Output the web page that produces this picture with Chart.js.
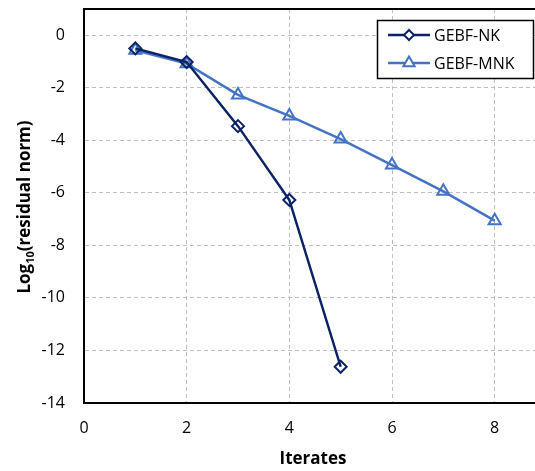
<!DOCTYPE html>
<html>
<head>
<meta charset="utf-8">
<script src="https://cdn.jsdelivr.net/npm/chart.js@4/dist/chart.umd.min.js"></script>
<style>
html,body{margin:0;padding:0;background:#fff;overflow:hidden;width:535px;height:471px;}
canvas{display:block;}
</style>
</head>
<body>
<canvas id="c" width="555" height="471"></canvas>
<script>
const nkX = [1, 2, 3, 4, 5];
const nkY = [-0.5, -1.02, -3.46, -6.27, -12.62];
const mnkX = [1, 2, 3, 4, 5, 6, 7, 8];
const mnkY = [-0.57, -1.08, -2.27, -3.07, -3.95, -4.94, -5.94, -7.06];
const seriesNames = ['GEBF-NK', 'GEBF-MNK'];
const xTitle = 'Iterates';
const yTitleMain = 'Log';
const yTitleSub = '10';
const yTitleRest = '(residual norm)';

const NK_COLOR = '#0B2366';
const MNK_COLOR = '#4472C4';
const FONT = "'Open Sans', sans-serif";

function pts(xs, ys){ return xs.map((x,i)=>({x:x, y:ys[i]})); }

const overlay = {
  id: 'overlay',
  afterDraw(chart){
    const ctx = chart.ctx;
    const a = chart.chartArea;
    ctx.save();
    ctx.setLineDash([]);
    ctx.strokeStyle = '#000';
    ctx.lineWidth = 2;
    ctx.beginPath();
    ctx.moveTo(a.left - 1, a.top);
    ctx.lineTo(a.right, a.top);
    ctx.lineTo(a.right, a.bottom);
    ctx.stroke();

    ctx.fillStyle = '#000';
    ctx.font = "bold 17px " + FONT;
    ctx.textAlign = 'center';
    ctx.textBaseline = 'middle';
    ctx.fillText(xTitle, 313, 459);

    ctx.translate(24, 207);
    ctx.rotate(-Math.PI/2);
    const fMain = "bold 17px " + FONT;
    const fSub = "bold 11px " + FONT;
    ctx.font = fMain; const w1 = ctx.measureText(yTitleMain).width;
    const w3 = ctx.measureText(yTitleRest).width;
    ctx.font = fSub; const w2 = ctx.measureText(yTitleSub).width;
    const total = w1 + w2 + w3;
    let x0 = -total/2;
    ctx.textAlign = 'left';
    ctx.textBaseline = 'alphabetic';
    ctx.font = fMain; ctx.fillText(yTitleMain, x0, 6);
    ctx.font = fSub; ctx.fillText(yTitleSub, x0 + w1, 10);
    ctx.font = fMain; ctx.fillText(yTitleRest, x0 + w1 + w2, 6);
    ctx.restore();

    ctx.save();
    ctx.setLineDash([]);
    ctx.fillStyle = '#fff';
    ctx.fillRect(377, 20, 157, 59);
    ctx.strokeStyle = '#000';
    ctx.lineWidth = 1.5;
    ctx.strokeRect(377.5, 20.5, 156, 58);
    const items = [
      {y: 35, color: NK_COLOR, style: 'rectRot', r: 5},
      {y: 63, color: MNK_COLOR, style: 'triangle', r: 6.5}
    ];
    items.forEach((it, i) => {
      ctx.strokeStyle = it.color;
      ctx.lineWidth = 2.5;
      ctx.beginPath();
      ctx.moveTo(388, it.y); ctx.lineTo(430, it.y); ctx.stroke();
      ctx.fillStyle = '#fff';
      ctx.lineWidth = 2;
      ctx.beginPath();
      if (it.style === 'rectRot') {
        ctx.moveTo(409, it.y - it.r); ctx.lineTo(409 + it.r, it.y); ctx.lineTo(409, it.y + it.r); ctx.lineTo(409 - it.r, it.y); ctx.closePath();
      } else {
        const r = it.r;
        ctx.moveTo(409, it.y - r); ctx.lineTo(409 + r*0.866, it.y + r*0.5); ctx.lineTo(409 - r*0.866, it.y + r*0.5); ctx.closePath();
      }
      ctx.fill(); ctx.stroke();
      ctx.fillStyle = '#000';
      ctx.font = "16px " + FONT;
      ctx.textAlign = 'left';
      ctx.textBaseline = 'middle';
      ctx.fillText(seriesNames[i], 434, it.y + 1);
    });
    ctx.restore();
  }
};

new Chart(document.getElementById('c'), {
  type: 'scatter',
  data: {
    datasets: [
      {
        label: seriesNames[0],
        data: pts(nkX, nkY),
        showLine: true,
        borderColor: NK_COLOR,
        backgroundColor: '#fff',
        borderWidth: 2.5,
        pointStyle: 'rectRot',
        pointRadius: 6,
        pointBorderWidth: 2,
        pointBackgroundColor: 'rgba(255,255,255,0)',
        pointBorderColor: NK_COLOR
      },
      {
        label: seriesNames[1],
        data: pts(mnkX, mnkY),
        showLine: true,
        borderColor: MNK_COLOR,
        backgroundColor: '#fff',
        borderWidth: 2.5,
        pointStyle: 'triangle',
        pointRadius: 7,
        pointBorderWidth: 2,
        pointBackgroundColor: 'rgba(255,255,255,0)',
        pointBorderColor: MNK_COLOR
      }
    ]
  },
  options: {
    responsive: false,
    animation: false,
    devicePixelRatio: 1,
    layout: {padding: {left: 0, top: 9, right: 1, bottom: 0}},
    plugins: {legend: {display: false}, tooltip: {enabled: false}},
    scales: {
      x: {
        type: 'linear',
        min: 0, max: 9,
        afterFit(s){ s.height = 68; s.paddingLeft = 0; s.paddingRight = 0; },
        border: {color: '#000', width: 2, dash: [4,3]},
        grid: {color: '#BFBFBF', lineWidth: 1, drawTicks: false},
        ticks: {stepSize: 2, includeBounds: false, padding: 16, color: '#000', font: {family: FONT, size: 16}},
        title: {display: false}
      },
      y: {
        type: 'linear',
        min: -14, max: 1,
        afterFit(s){ s.width = 84; s.paddingTop = 0; s.paddingBottom = 0; },
        border: {color: '#000', width: 2, dash: [4,3]},
        grid: {color: '#BFBFBF', lineWidth: 1, drawTicks: false},
        ticks: {stepSize: 2, includeBounds: false, padding: 19, color: '#000', font: {family: FONT, size: 16}},
        title: {display: false}
      }
    }
  },
  plugins: [overlay]
});
</script>
</body>
</html>
